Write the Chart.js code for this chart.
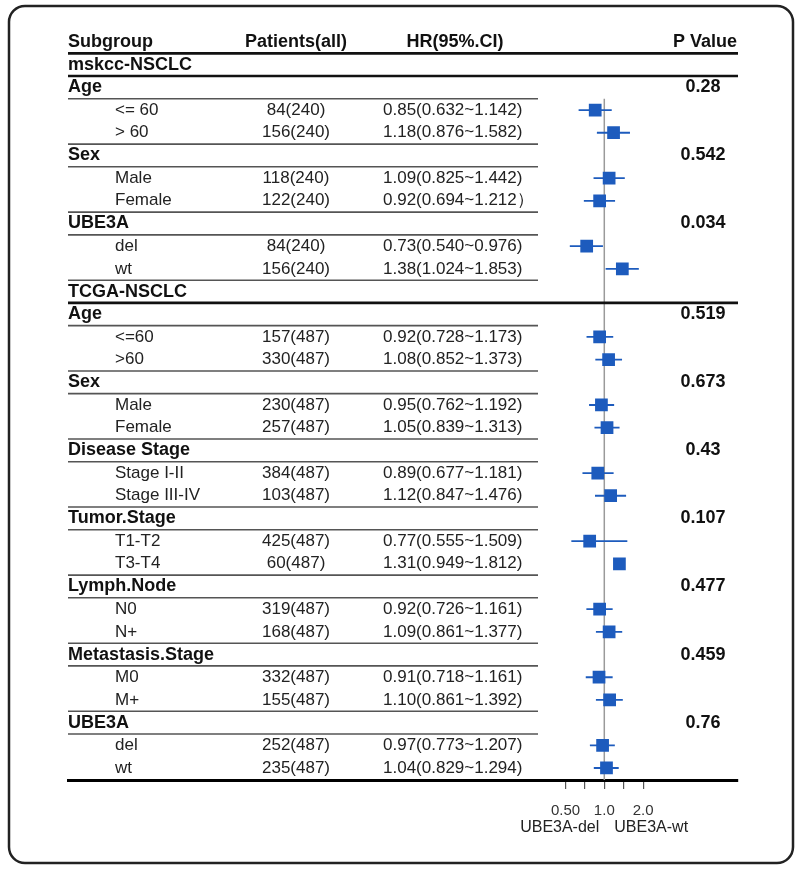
<!DOCTYPE html>
<html>
<head>
<meta charset="UTF-8">
<title>forest plot</title>
<script src="https://cdn.jsdelivr.net/npm/chart.js"></script>
<style>
body{margin:0; background:#fff;}
#wrap{width:800px; height:873px;}
</style>
</head>
<body>
<div id="wrap"><canvas id="myChart"></canvas></div>
<script>
// table rows, row 1 = first line under the header (header itself is row 0)
const headers = ['Subgroup', 'Patients(all)', 'HR(95%.CI)', 'P Value'];
const rowLabels = ['mskcc-NSCLC', 'Age', '<= 60', '> 60', 'Sex', 'Male', 'Female', 'UBE3A', 'del', 'wt',
  'TCGA-NSCLC', 'Age', '<=60', '>60', 'Sex', 'Male', 'Female', 'Disease Stage', 'Stage I-II', 'Stage III-IV',
  'Tumor.Stage', 'T1-T2', 'T3-T4', 'Lymph.Node', 'N0', 'N+', 'Metastasis.Stage', 'M0', 'M+', 'UBE3A', 'del', 'wt'];
const rowTypes = ['cohort', 'group', 'sub', 'sub', 'group', 'sub', 'sub', 'group', 'sub', 'sub',
  'cohort', 'group', 'sub', 'sub', 'group', 'sub', 'sub', 'group', 'sub', 'sub',
  'group', 'sub', 'sub', 'group', 'sub', 'sub', 'group', 'sub', 'sub', 'group', 'sub', 'sub'];
const patients = [null, null, 84, 156, null, 118, 122, null, 84, 156,
  null, null, 157, 330, null, 230, 257, null, 384, 103,
  null, 425, 60, null, 319, 168, null, 332, 155, null, 252, 235];
const patientsAll = [null, null, 240, 240, null, 240, 240, null, 240, 240,
  null, null, 487, 487, null, 487, 487, null, 487, 487,
  null, 487, 487, null, 487, 487, null, 487, 487, null, 487, 487];
const hrCells = [null, null, '0.85(0.632~1.142)', '1.18(0.876~1.582)', null, '1.09(0.825~1.442)', '0.92(0.694~1.212）', null, '0.73(0.540~0.976)', '1.38(1.024~1.853)',
  null, null, '0.92(0.728~1.173)', '1.08(0.852~1.373)', null, '0.95(0.762~1.192)', '1.05(0.839~1.313)', null, '0.89(0.677~1.181)', '1.12(0.847~1.476)',
  null, '0.77(0.555~1.509)', '1.31(0.949~1.812)', null, '0.92(0.726~1.161)', '1.09(0.861~1.377)', null, '0.91(0.718~1.161)', '1.10(0.861~1.392)', null, '0.97(0.773~1.207)', '1.04(0.829~1.294)'];
const hr = [null, null, 0.85, 1.18, null, 1.09, 0.92, null, 0.73, 1.38,
  null, null, 0.92, 1.08, null, 0.95, 1.05, null, 0.89, 1.12,
  null, 0.77, 1.31, null, 0.92, 1.09, null, 0.91, 1.10, null, 0.97, 1.04];
// whiskers as drawn (T3-T4 has none in the figure)
const ciLow = [null, null, 0.632, 0.876, null, 0.825, 0.694, null, 0.540, 1.024,
  null, null, 0.728, 0.852, null, 0.762, 0.839, null, 0.677, 0.847,
  null, 0.555, null, null, 0.726, 0.861, null, 0.718, 0.861, null, 0.773, 0.829];
const ciHigh = [null, null, 1.142, 1.582, null, 1.442, 1.212, null, 0.976, 1.853,
  null, null, 1.173, 1.373, null, 1.192, 1.313, null, 1.181, 1.476,
  null, 1.509, null, null, 1.161, 1.377, null, 1.161, 1.392, null, 1.207, 1.294];
const pValues = [null, '0.28', null, null, '0.542', null, null, '0.034', null, null,
  null, '0.519', null, null, '0.673', null, null, '0.43', null, null,
  '0.107', null, null, '0.477', null, null, '0.459', null, null, '0.76', null, null];
const axisTicks = [0.5, 0.707, 1, 1.414, 2];
const axisTickLabels = ['0.50', '', '1.0', '', '2.0'];
const sideLabels = ['UBE3A-del', 'UBE3A-wt'];

const FONT = '"Liberation Sans", Arial, sans-serif';
const BLUE = '#1d5bbd';
const Y_MAX = 32.53;

var squares = [];
var whiskers = [];
hr.forEach(function(v, i){
	if (v != null) squares.push({x: v, y: i + 1});
	if (ciLow[i] != null) {
		whiskers.push({
			type: 'scatter', showLine: true, data: [{x: ciLow[i], y: i + 1}, {x: ciHigh[i], y: i + 1}],
			borderColor: BLUE, borderWidth: 1.8, pointRadius: 0
		});
	}
});

const tablePlugin = {
	id: 'tablePlugin',
	beforeDraw: function(chart){
		const ctx = chart.ctx;
		ctx.save();
		ctx.strokeStyle = '#222';
		ctx.lineWidth = 2.5;
		ctx.beginPath();
		ctx.roundRect(9, 6, 784, 857, 16);
		ctx.stroke();
		ctx.restore();
	},
	afterDraw: function(chart){
		const ctx = chart.ctx;
		const ys = chart.scales.y, xs = chart.scales.x;
		const rowY = function(r){ return ys.getPixelForValue(r); };
		const lineY = function(r){ return (rowY(r) + rowY(r + 1)) / 2; };
		ctx.save();
		ctx.textBaseline = 'middle';

		// rules
		function rule(r, thick){
			ctx.beginPath();
			ctx.lineWidth = thick ? 2.6 : 1.6;
			ctx.strokeStyle = thick ? '#111' : '#555';
			ctx.moveTo(68, lineY(r));
			ctx.lineTo(thick ? 738 : 538, lineY(r));
			ctx.stroke();
		}
		rule(0, true);
		rowTypes.forEach(function(t, i){
			const r = i + 1;
			if (r === rowTypes.length) return;
			if (t === 'cohort') rule(r, true);
			else if (t === 'group' || rowTypes[i + 1] !== 'sub') rule(r, false);
		});

		// header
		ctx.fillStyle = '#111';
		ctx.font = 'bold 18px ' + FONT;
		ctx.textAlign = 'left';   ctx.fillText(headers[0], 68, rowY(0));
		ctx.textAlign = 'center'; ctx.fillText(headers[1], 296, rowY(0));
		ctx.fillText(headers[2], 455, rowY(0));
		ctx.textAlign = 'right';  ctx.fillText(headers[3], 737, rowY(0));

		rowLabels.forEach(function(lab, i){
			const y = rowY(i + 1);
			if (rowTypes[i] !== 'sub') {
				ctx.font = 'bold 18px ' + FONT;
				ctx.fillStyle = '#111';
				ctx.textAlign = 'left';
				ctx.fillText(lab, 68, y);
			} else {
				ctx.font = '17px ' + FONT;
				ctx.fillStyle = '#222';
				ctx.textAlign = 'left';
				ctx.fillText(lab, 115, y);
				ctx.textAlign = 'center';
				ctx.fillText(patients[i] + '(' + patientsAll[i] + ')', 296, y);
				ctx.textAlign = 'left';
				ctx.fillText(hrCells[i], 383, y);
			}
			if (pValues[i] != null) {
				ctx.font = 'bold 18px ' + FONT;
				ctx.fillStyle = '#111';
				ctx.textAlign = 'center';
				ctx.fillText(pValues[i], 703, y);
			}
		});

		// labels under the axis
		const x1 = xs.getPixelForValue(1);
		ctx.font = '16px ' + FONT;
		ctx.fillStyle = '#222';
		ctx.textAlign = 'right';
		ctx.fillText(sideLabels[0], x1 - 5, chart.chartArea.bottom + 48);
		ctx.textAlign = 'left';
		ctx.fillText(sideLabels[1], x1 + 10, chart.chartArea.bottom + 48);
		ctx.restore();
	}
};

const ctx = document.getElementById('myChart');
new Chart(ctx, {
	type: 'scatter',
	data: {
		datasets: [{
			data: squares,
			pointStyle: 'rect',
			pointRadius: 9,
			backgroundColor: BLUE,
			borderWidth: 0
		}].concat(whiskers).concat([{
			showLine: true,
			data: [{x: 1, y: 2.5}, {x: 1, y: Y_MAX}],
			borderColor: '#9a9a9a',
			borderWidth: 1.5,
			pointRadius: 0
		}])
	},
	options: {
		responsive: true,
		maintainAspectRatio: false,
		animation: false,
		layout: {padding: {top: 19.3, left: 68, right: 62, bottom: 0}},
		plugins: {legend: {display: false}, tooltip: {enabled: false}},
		scales: {
			y: {type: 'linear', reverse: true, min: -1, max: Y_MAX, display: false},
			x: {
				type: 'logarithmic',
				min: Math.pow(2, -(604.3 - 68) / 38.8),
				max: Math.pow(2, (738 - 604.3) / 38.8),
				afterBuildTicks: function(s){ s.ticks = axisTicks.map(function(v){ return {value: v}; }); },
				afterFit: function(s){ s.height = 93; },
				grid: {drawOnChartArea: false, tickLength: 9, color: '#555', lineWidth: 1.2},
				border: {color: '#000', width: 3},
				ticks: {
					autoSkip: false, maxRotation: 0, padding: 13, color: '#333',
					font: {family: FONT, size: 15},
					callback: function(v, i){ return axisTickLabels[i]; }
				}
			}
		}
	},
	plugins: [tablePlugin]
});
</script>
</body>
</html>
